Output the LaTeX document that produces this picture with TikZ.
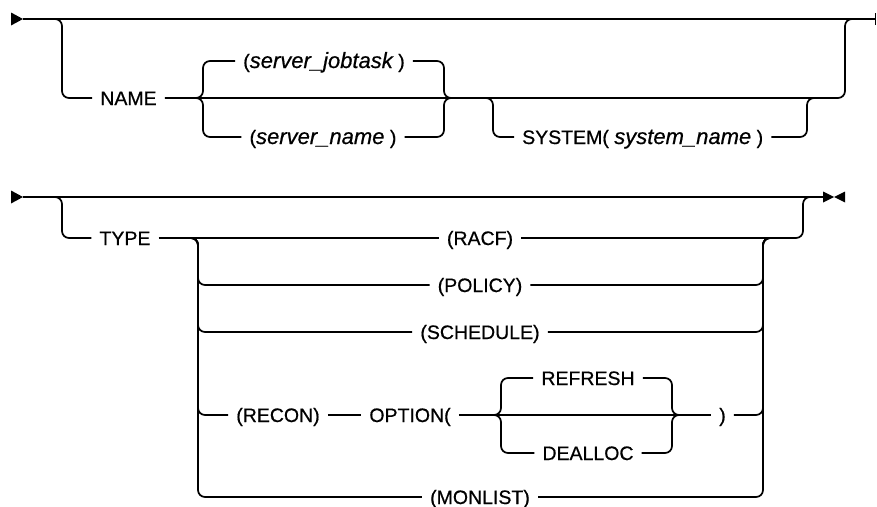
\documentclass[tikz,border=0pt]{standalone}
\usepackage{fontspec}
\setmainfont{Liberation Sans}[FakeBold=0.6]
\newcommand{\varit}[1]{{\fontsize{22}{24}\selectfont\itshape #1}}
\begin{document}
\begin{tikzpicture}[x=1pt,y=-1pt,
  rr/.style={line width=1.7pt, rounded corners=7pt},
  lbl/.style={font=\fontsize{19.5}{22}\selectfont, inner xsep=8pt, inner ysep=0pt, text height=14pt, text depth=0pt}]
\useasboundingbox (0,0) rectangle (877,506);
% ---------------- row 1 ----------------
\coordinate (s1) at (23,19);
\coordinate (e1) at (875.5,19);
\fill (11,12.5) -- (s1) -- (11,25.5) -- cycle;
\draw[rr] (s1) -- (e1);
\draw[line width=1.8pt] ([yshift=-6pt]e1) -- ([yshift=6pt]e1);
\node[lbl] (name) at (128.5,98) {NAME};
\node[lbl] (job) at (324,61) {(\varit{server\_jobtask} )};
\node[lbl] (sname) at (323,137) {(\varit{server\_name} )};
\node[lbl, anchor=west] (sys) at (514,137) {SYSTEM( \varit{system\_name} )};
\coordinate (b1l) at (62,19);
\coordinate (b1r) at (845,19);
\coordinate (c1l) at (203,98);
\coordinate (c1r) at (444,98);
\coordinate (y1l) at (493,98);
\coordinate (y1r) at (807,98);
% optional NAME branch
\draw[rr] ([xshift=-7pt]b1l) -- (b1l) -- (b1l |- name) -- (name.west);
\draw[rr] (name.east) -- (b1r |- name) -- (b1r) -- ([xshift=7pt]b1r);
% server choice (brace)
\draw[rr] ([xshift=-7pt]c1l) -- (c1l) -- (c1l |- job) -- (job.west);
\draw[rr] ([xshift=-7pt]c1l) -- (c1l) -- (c1l |- sname) -- (sname.west);
\draw[rr] (job.east) -- (c1r |- job) -- (c1r) -- ([xshift=7pt]c1r);
\draw[rr] (sname.east) -- (c1r |- sname) -- (c1r) -- ([xshift=7pt]c1r);
% optional SYSTEM
\draw[rr] ([xshift=-7pt]y1l) -- (y1l) -- (y1l |- sys) -- (sys.west);
\draw[rr] (sys.east) -- (y1r |- sys) -- (y1r) -- ([xshift=7pt]y1r);
% ---------------- row 2 ----------------
\coordinate (s2) at (23,197);
\coordinate (e2) at (823,197);
\fill (11,190.5) -- (s2) -- (11,203.5) -- cycle;
\draw[rr] (s2) -- (e2);
\fill (823,191.5) -- (834,197) -- (823,202.5) -- cycle;
\fill (845,191.5) -- (834,197) -- (845,202.5) -- cycle;
\node[lbl] (type) at (125,238) {TYPE};
\node[lbl] (racf) at (480,238) {(RACF)};
\node[lbl] (policy) at (480,285) {(POLICY)};
\node[lbl] (sched) at (480,332) {(SCHEDULE)};
\node[lbl] (recon) at (278,415) {(RECON)};
\node[lbl] (opt) at (410,415) {OPTION(};
\node[lbl] (refresh) at (588,378) {REFRESH};
\node[lbl] (dealloc) at (588,453) {DEALLOC};
\node[lbl] (rp) at (722.5,415) {)};
\node[lbl] (mon) at (480,497) {(MONLIST)};
\coordinate (b2l) at (62,197);
\coordinate (b2r) at (803,197);
\coordinate (t2l) at (198,238);
\coordinate (t2r) at (763,238);
\coordinate (o2l) at (501,415);
\coordinate (o2r) at (672,415);
% optional TYPE branch
\draw[rr] ([xshift=-7pt]b2l) -- (b2l) -- (b2l |- type) -- (type.west);
\draw[rr] (type.east) -- (racf.west);
\draw[rr] (racf.east) -- (b2r |- racf) -- (b2r) -- ([xshift=7pt]b2r);
% TYPE choices
\foreach \n in {policy,sched,recon,mon}{
  \draw[rr] ([xshift=-7pt]t2l) -- (t2l) -- (t2l |- \n) -- (\n.west);
}
\foreach \n in {policy,sched,rp,mon}{
  \draw[rr] (\n.east) -- (t2r |- \n) -- (t2r) -- ([xshift=7pt]t2r);
}
% RECON row
\draw[rr] (recon.east) -- (opt.west);
\draw[rr] (opt.east) -- (rp.west);
\draw[rr] ([xshift=-7pt]o2l) -- (o2l) -- (o2l |- refresh) -- (refresh.west);
\draw[rr] ([xshift=-7pt]o2l) -- (o2l) -- (o2l |- dealloc) -- (dealloc.west);
\draw[rr] (refresh.east) -- (o2r |- refresh) -- (o2r) -- ([xshift=7pt]o2r);
\draw[rr] (dealloc.east) -- (o2r |- dealloc) -- (o2r) -- ([xshift=7pt]o2r);
\end{tikzpicture}
\end{document}
